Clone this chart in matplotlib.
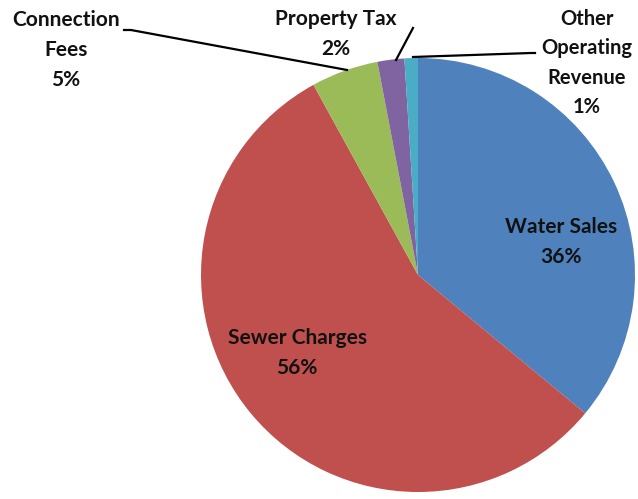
import matplotlib.pyplot as plt

# revenue sources, percent of total
labels = ['Water Sales', 'Sewer Charges', 'Connection Fees', 'Property Tax',
          'Other\nOperating\nRevenue']
shares = [36, 56, 5, 2, 1]
colors = ['#4F81BD', '#C0504D', '#9BBB59', '#8064A2', '#4BACC6']

W, H = 638, 499
fig = plt.figure(figsize=(W / 100, H / 100), dpi=100)
cx, cy, r = 418, 275, 217
ax = fig.add_axes([(cx - r) / W, (H - cy - r) / H, 2 * r / W, 2 * r / H])
ax.pie(shares, colors=colors, startangle=90, counterclock=False, radius=1,
       wedgeprops=dict(linewidth=0))
ax.set_xlim(-1, 1)
ax.set_ylim(-1, 1)
ax.axis('off')

font = dict(family='Lato', weight='bold', size=15, color='#111111',
            ha='center', va='center', linespacing=1.6)


def px(x, y):
    # pixel position -> data coordinates of the pie axes
    return (x - cx) / r, (cy - y) / r


def pct_text(i):
    return '%s\n%d%%' % (labels[i], shares[i])


ax.text(*px(561, 242), pct_text(0), **font)
ax.text(*px(297, 353), pct_text(1), **font)
ax.text(*px(66, 50), 'Connection\nFees\n%d%%' % shares[2], **font)
ax.text(*px(336, 34), pct_text(3), **font)
ax.text(*px(587, 63), pct_text(4), **dict(font, size=14.5))

# leader lines
line = dict(color='black', linewidth=1.6, clip_on=False)
for pts in [[(124, 30), (131, 30), (347, 70)],
            [(413, 28), (396, 60)],
            [(413, 57), (531, 53), (535, 53)]]:
    xs, ys = zip(*[px(x, y) for x, y in pts])
    ax.plot(xs, ys, **line)

fig.savefig('out.png', dpi=100)
